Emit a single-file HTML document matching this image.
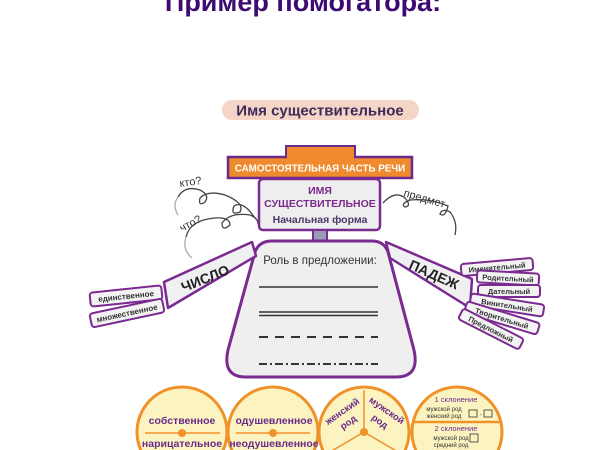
<!DOCTYPE html>
<html><head><meta charset="utf-8"><style>
html,body{margin:0;padding:0;background:#fff;width:600px;height:450px;overflow:hidden;}
svg{display:block;}
text{font-family:"Liberation Sans","DejaVu Sans",sans-serif;}
</style></head><body>
<svg width="600" height="450" viewBox="0 0 600 450" xmlns="http://www.w3.org/2000/svg">
<text x="303" y="11" font-size="27" font-weight="bold" fill="#3d0a72" text-anchor="middle">Пример помогатора:</text>

<rect x="222" y="100" width="197" height="20" rx="10" fill="#f5d5c6"/>
<text x="320" y="115.5" font-size="15" font-weight="bold" fill="#3d2a5a" text-anchor="middle">Имя существительное</text>

<rect x="286" y="146" width="69" height="16" fill="#ef8a2e" stroke="#6a2a8a" stroke-width="2"/>
<rect x="228" y="157" width="184" height="21" fill="#ef8a2e" stroke="#6a2a8a" stroke-width="2.5"/>
<rect x="287" y="155" width="67" height="4" fill="#ef8a2e"/>
<text x="320" y="171.5" font-size="9.8" font-weight="bold" fill="#fff" text-anchor="middle">САМОСТОЯТЕЛЬНАЯ ЧАСТЬ РЕЧИ</text>

<rect x="259" y="179" width="121" height="51" rx="4" fill="#eeeeef" stroke="#7a2a90" stroke-width="2.5"/>
<text x="320" y="194" font-size="10.5" font-weight="bold" fill="#7a2a8a" text-anchor="middle">ИМЯ</text>
<text x="320" y="207" font-size="10.5" font-weight="bold" fill="#7a2a8a" text-anchor="middle">СУЩЕСТВИТЕЛЬНОЕ</text>
<text x="320" y="223" font-size="10.5" font-weight="bold" fill="#4a3a6a" text-anchor="middle">Начальная форма</text>

<rect x="313" y="230" width="14" height="12" fill="#9a9ab8" stroke="#7a2a90" stroke-width="2"/>

<path d="M272 241 L372 241 Q384 241 388 252 L414 350 Q420 377 396 377 L246 377 Q222 377 228 350 L255 252 Q259 241 272 241 Z" fill="#efeff0" stroke="#7a2a90" stroke-width="3"/>
<text x="320" y="264" font-size="11.5" fill="#333" text-anchor="middle">Роль в предложении:</text>
<line x1="259" y1="287" x2="378" y2="287" stroke="#333" stroke-width="1.5"/>
<line x1="259" y1="312" x2="378" y2="312" stroke="#333" stroke-width="1.5"/>
<line x1="259" y1="315.5" x2="378" y2="315.5" stroke="#333" stroke-width="1.5"/>
<line x1="259" y1="337" x2="378" y2="337" stroke="#333" stroke-width="2" stroke-dasharray="9,7"/>
<line x1="259" y1="364" x2="378" y2="364" stroke="#333" stroke-width="2" stroke-dasharray="8,3,2,3"/>

<polygon points="164,282 252,242 256,256 168,308" fill="#f0f0f2" stroke="#7a2a90" stroke-width="2.5" stroke-linejoin="round"/>
<text transform="translate(207,283) rotate(-22)" font-size="14" font-weight="bold" fill="#222" text-anchor="middle">ЧИСЛО</text>
<g transform="translate(126,296) rotate(-6)"><rect x="-36" y="-7" width="72" height="14" rx="3" fill="#f3f3f3" stroke="#7a2a90" stroke-width="2"/><text y="3" font-size="8" font-weight="bold" fill="#333" text-anchor="middle">единственное</text></g>
<g transform="translate(127,313) rotate(-12)"><rect x="-37" y="-7" width="74" height="14" rx="3" fill="#f3f3f3" stroke="#7a2a90" stroke-width="2"/><text y="3" font-size="8" font-weight="bold" fill="#333" text-anchor="middle">множественное</text></g>

<polygon points="386,242 472,279 470,308 390,258" fill="#f0f0f2" stroke="#7a2a90" stroke-width="2.5" stroke-linejoin="round"/>
<text transform="translate(432,279) rotate(24)" font-size="14" font-weight="bold" fill="#222" text-anchor="middle">ПАДЕЖ</text>
<g font-size="7.5" font-weight="bold" fill="#333" text-anchor="middle">
<g transform="translate(497,267) rotate(-5)"><rect x="-36" y="-6" width="72" height="12" rx="3" fill="#f3f3f3" stroke="#7a2a90" stroke-width="2"/><text y="3">Именительный</text></g>
<g transform="translate(508,278) rotate(3)"><rect x="-31" y="-6" width="62" height="12" rx="3" fill="#f3f3f3" stroke="#7a2a90" stroke-width="2"/><text y="3">Родительный</text></g>
<g transform="translate(509,291)"><rect x="-31" y="-6" width="62" height="12" rx="3" fill="#f3f3f3" stroke="#7a2a90" stroke-width="2"/><text y="3">Дательный</text></g>
<g transform="translate(507,305) rotate(9)"><rect x="-37" y="-6" width="74" height="12" rx="3" fill="#f3f3f3" stroke="#7a2a90" stroke-width="2"/><text y="3">Винительный</text></g>
<g transform="translate(502,318) rotate(17)"><rect x="-38" y="-6" width="76" height="12" rx="3" fill="#f3f3f3" stroke="#7a2a90" stroke-width="2"/><text y="3">Творительный</text></g>
<g transform="translate(491,329) rotate(27)"><rect x="-34" y="-6" width="68" height="12" rx="3" fill="#f3f3f3" stroke="#7a2a90" stroke-width="2"/><text y="3">Предложный</text></g>
</g>

<g fill="none" stroke="#444" stroke-width="1.3">
<path d="M178 197 Q185 185 200 190 Q210 195 205 202 Q198 207 200 198 Q208 190 225 195 Q245 203 240 212 Q230 216 234 206 Q243 200 255 218"/>
<path d="M186 237 Q190 220 215 218 Q230 217 230 225 Q222 232 222 223 Q230 212 250 215 Q258 218 258 224"/>
<path d="M186 237 Q182 250 192 258" stroke="#aaa"/>
<path d="M178 197 Q172 205 178 215" stroke="#aaa"/>
<path d="M383 203 Q395 190 405 198 Q412 206 405 207 Q400 204 410 200 Q430 198 448 206 Q445 218 440 214 Q442 208 450 212 Q458 222 455 235"/>
</g>
<text transform="translate(180,187) rotate(-8)" font-size="11" fill="#333">кто?</text>
<text transform="translate(182,232) rotate(-28)" font-size="11" fill="#333">что?</text>
<text transform="translate(403,196) rotate(16)" font-size="11" fill="#333">предмет</text>

<g stroke="#f0922a" stroke-width="3" fill="#fcf4c0">
<circle cx="182" cy="432" r="45"/>
<circle cx="273" cy="432" r="45"/>
<circle cx="364" cy="432" r="45"/>
<circle cx="457" cy="432" r="45"/>
</g>
<g stroke="#f0922a" stroke-width="1.5">
<line x1="145" y1="433" x2="220" y2="433"/>
<line x1="236" y1="433" x2="310" y2="433"/>
<line x1="364" y1="390" x2="364" y2="432"/>
<line x1="364" y1="432" x2="330" y2="452"/>
<line x1="364" y1="432" x2="398" y2="452"/>
<line x1="413" y1="422" x2="501" y2="422" stroke-width="2.5"/>
</g>
<circle cx="182" cy="433" r="4" fill="#f0922a"/>
<circle cx="273" cy="433" r="4" fill="#f0922a"/>
<circle cx="364" cy="432" r="4" fill="#f0922a"/>
<g font-size="10.5" font-weight="bold" fill="#6a2a8a" text-anchor="middle">
<text x="182" y="424">собственное</text>
<text x="182" y="447">нарицательное</text>
<text x="274" y="424">одушевленное</text>
<text x="274" y="447">неодушевленное</text>
<text transform="translate(344,414) rotate(-35)" font-size="9.5">женский</text>
<text transform="translate(350,425) rotate(-35)" font-size="9.5">род</text>
<text transform="translate(385,413) rotate(35)" font-size="9.5">мужской</text>
<text transform="translate(378,424) rotate(35)" font-size="9.5">род</text>
</g>
<g text-anchor="middle" fill="#6a2a8a">
<text x="456" y="402" font-size="7.5">1 склонение</text>
<text x="444" y="411" font-size="6" fill="#333">мужской род</text>
<text x="444" y="418" font-size="6" fill="#333">женский род</text>
<rect x="469" y="410" width="8" height="7" fill="none" stroke="#333" stroke-width="0.8"/>
<text x="481" y="416" font-size="6" fill="#333">-</text>
<rect x="484" y="410" width="8" height="7" fill="none" stroke="#333" stroke-width="0.8"/>
<text x="456" y="431" font-size="7.5">2 склонение</text>
<text x="451" y="440" font-size="6" fill="#333">мужской род</text>
<rect x="470" y="434" width="8" height="8" fill="none" stroke="#333" stroke-width="0.8"/>
<text x="451" y="447" font-size="6" fill="#333">средний род</text>
</g>
</svg>
</body></html>
